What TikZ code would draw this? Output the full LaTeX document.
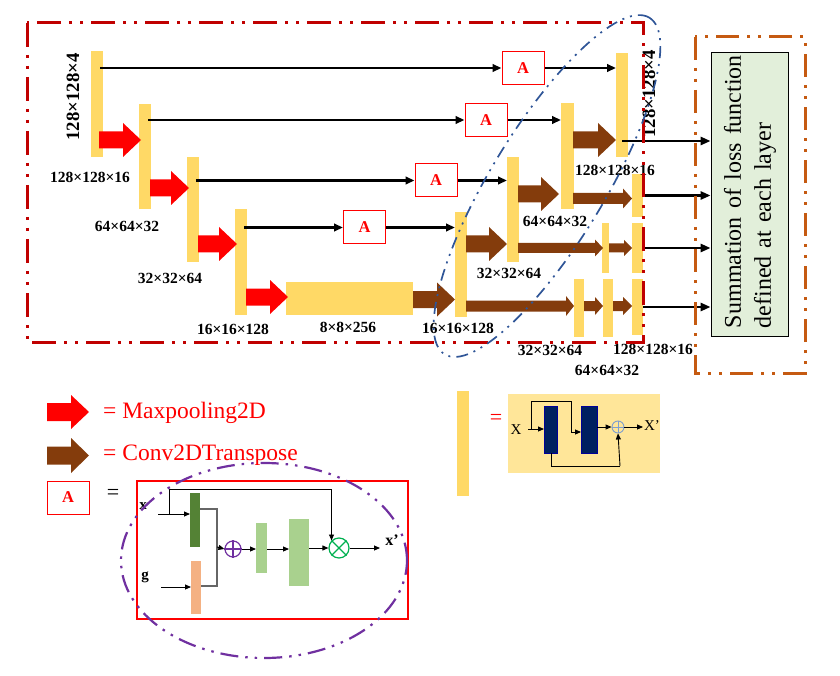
\documentclass[tikz,border=0pt]{standalone}
\usepackage{fontspec}
\setmainfont{Liberation Serif}
\usetikzlibrary{arrows.meta}
\definecolor{ybar}{HTML}{FFD966}
\definecolor{dred}{HTML}{C00000}
\definecolor{brn}{HTML}{843C0C}
\definecolor{org}{HTML}{C55A11}
\definecolor{blu}{HTML}{2F5597}
\definecolor{pur}{HTML}{7030A0}
\definecolor{lgreen}{HTML}{E2EFDA}
\definecolor{dgreen}{HTML}{548235}
\definecolor{mgreen}{HTML}{A9D18E}
\definecolor{peach}{HTML}{F4B183}
\definecolor{lyel}{HTML}{FFE699}
\definecolor{navy}{HTML}{002060}
\definecolor{xgreen}{HTML}{00B050}
\definecolor{pblue}{HTML}{7F9FCF}
\newcommand\mkbar[6]{\node[#1,minimum width={(#5-#3)*1pt},minimum height={(#6-#4)*1pt}] (#2) at ({(#3+#5)/2},{(#4+#6)/2}) {};}
\newcommand\blockarr[7]{\fill[#1] (#2,#5-#6) -- (#3,#5-#6) -- (#3,#5-#7) -- (#4,#5) -- (#3,#5+#7) -- (#3,#5+#6) -- (#2,#5+#6) -- cycle;}
\begin{document}
\begin{tikzpicture}[x=1pt,y=-1pt,
  bar/.style={fill=ybar,inner sep=0,outer sep=0},
  fbar/.style={inner sep=0,outer sep=0},
  abox/.style={draw=red,line width=1pt,fill=white,minimum width=42pt,minimum height=33pt,inner sep=0,text=red,font=\bfseries\fontsize{16.5}{16}\selectfont},
  dim/.style={font=\bfseries\fontsize{15.5}{18}\selectfont,inner sep=0},
  rdim/.style={font=\bfseries\fontsize{18.8}{20}\selectfont,inner sep=0,rotate=90},
  skiparr/.style={-{Triangle[length=9pt,width=7.5pt]},line width=2.3pt},
  outarr/.style={-{Triangle[length=10pt,width=8pt]},line width=2.5pt},
  thinarr/.style={-{Triangle[length=6pt,width=5pt]},line width=0.9pt},
  thinline/.style={line width=0.9pt},
  leg/.style={font=\fontsize{23.5}{24}\selectfont,text=red,anchor=base west,inner sep=0},
  lbl/.style={font=\bfseries\fontsize{15}{16}\selectfont,inner sep=0},
  dashdotdot/.style={dash pattern=on 24pt off 8pt on 3pt off 8pt on 3pt off 8pt}]
\useasboundingbox (0,0) rectangle (840,676);

% ---------- encoder / decoder bars ----------
\mkbar{bar}{e1}{91}{51}{103}{157}
\mkbar{bar}{e2}{139}{104}{151}{209}
\mkbar{bar}{e3}{187}{157}{199}{262}
\mkbar{bar}{e4}{235}{209}{247}{315}
\mkbar{bar}{bn}{286}{282}{413}{315}
\mkbar{bar}{d4}{455}{212}{467}{317}
\mkbar{bar}{d3}{507}{157}{519}{262}
\mkbar{bar}{d2}{561}{103}{574}{209}
\mkbar{bar}{d1}{616}{53}{628}{157}
\mkbar{bar}{r1}{632}{174}{643}{217}
\mkbar{bar}{r2}{632}{223}{643}{273}
\mkbar{bar}{r3}{632}{279}{643}{335}
\mkbar{bar}{s2}{602}{223}{609}{273}
\mkbar{bar}{s3a}{574}{279}{584}{337}
\mkbar{bar}{s3b}{603}{279}{613}{337}

% ---------- block arrows ----------
\blockarr{red}{99}{123}{141}{140}{8.5}{17}
\blockarr{red}{150}{171}{189}{188}{8.5}{17}
\blockarr{red}{198}{219}{237}{244}{8.5}{17}
\blockarr{red}{246}{270}{288}{297}{8.5}{17}
\blockarr{brn}{413}{437}{455}{299.5}{8.5}{17}
\blockarr{brn}{466}{489}{507}{244}{8.5}{17}
\blockarr{brn}{518}{541}{559}{194}{8.5}{17}
\blockarr{brn}{573}{598}{616}{140}{8.5}{17}
\blockarr{brn}{573}{623}{632}{198.5}{5.5}{10}
\blockarr{brn}{518}{595}{603}{248}{5}{8.5}
\blockarr{brn}{609}{624}{632}{248}{4.5}{8}
\blockarr{brn}{466}{566}{574}{306}{5.5}{10}
\blockarr{brn}{584}{595}{603}{306}{5}{9}
\blockarr{brn}{613}{623}{632}{306}{5}{9}

% ---------- attention boxes and skips ----------
\node[abox] (a1) at (523,68) {A};
\node[abox] (a2) at (486,120) {A};
\node[abox] (a3) at (436,180.5) {A};
\node[abox] (a4) at (364.5,227.5) {A};
\draw[skiparr] ([xshift=-3pt]e1.east |- a1.west) -- (a1.west);
\draw[skiparr] (a1.east) -- (d1.west |- a1.east);
\draw[skiparr] ([xshift=-3pt]e2.east |- a2.west) -- (a2.west);
\draw[skiparr] (a2.east) -- (d2.west |- a2.east);
\draw[skiparr] ([xshift=-3pt]e3.east |- a3.west) -- (a3.west);
\draw[skiparr] (a3.east) -- (d3.west |- a3.east);
\draw[skiparr] ([xshift=-3pt]e4.east |- a4.west) -- (a4.west);
\draw[skiparr] (a4.east) -- (d4.west |- a4.east);

% ---------- labels ----------
\node[rdim] at (73,97) {128×128×4};
\node[rdim] at (649,94) {128×128×4};
\node[dim] at (90,177) {128×128×16};
\node[dim] at (127,226) {64×64×32};
\node[dim] at (170,278) {32×32×64};
\node[dim] at (233,329) {16×16×128};
\node[dim] at (348,327) {8×8×256};
\node[dim] at (458,328) {16×16×128};
\node[dim] at (509,273) {32×32×64};
\node[dim] at (555,221) {64×64×32};
\node[dim] at (615,170) {128×128×16};
\node[dim] at (550,350) {32×32×64};
\node[dim] at (607,370) {64×64×32};
\node[dim] at (653,349) {128×128×16};

% ---------- summation box ----------
\node[draw=black,line width=0.8pt,fill=lgreen,minimum width=77pt,minimum height=284pt,inner sep=0] (sum) at (749.5,194) {};
\node[rotate=90,text width=273pt,align=left,inner sep=0,font=\fontsize{24}{30}\selectfont] at (750,191.5) {Summation\hfill of\hfill loss\hfill function\\defined at each layer};
\coordinate (o0) at (622,141);
\draw[outarr] (o0) -- (o0 -| sum.west);
\draw[outarr] (r1.east) -- (r1.east -| sum.west);
\draw[outarr] (r2.east) -- (r2.east -| sum.west);
\draw[outarr] (r3.east) -- (r3.east -| sum.west);

% ---------- frames ----------
\draw[dred,line width=3pt,dashdotdot] (27,23) rectangle (643,342);
\draw[org,line width=3pt,dash pattern=on 23pt off 8pt on 3pt off 8pt on 3pt off 8pt] (695,37) rectangle (805,373);
\draw[blu,line width=1.7pt,dash pattern=on 12pt off 6pt on 2pt off 6pt on 2pt off 6pt,rotate around={58.7:(547,186)}] (547,186) ellipse [x radius=197pt,y radius=57pt];

% ---------- legend ----------
\blockarr{red}{47}{71}{89}{412}{9}{17}
\blockarr{brn}{47}{71}{89}{455.5}{9}{17.5}
\node[leg] at (103,418) {= Maxpooling2D};
\node[leg] at (103,460) {= Conv2DTranspose};
\node[abox] (aleg) at (68,497.5) {A};
\node[font=\fontsize{22}{24}\selectfont,inner sep=0] (eqa) at (113,494) {=};

% attention block
\draw[red,line width=2pt] (137,481) rectangle (408,619);
\mkbar{fbar,fill=dgreen}{G}{190}{493}{200}{547}
\mkbar{fbar,fill=peach}{O}{191}{561}{201}{614}
\mkbar{fbar,fill=mgreen}{L1}{256}{523}{267}{573}
\mkbar{fbar,fill=mgreen}{L2}{289}{519}{309}{586}
\node[circle,draw=pur,line width=1.2pt,minimum size=16pt,inner sep=0] (P) at (233,549) {};
\draw[pur,line width=1.2pt] (P.north) -- (P.south) (P.west) -- (P.east);
\node[circle,draw=xgreen,line width=1.2pt,minimum size=20pt,inner sep=0] (M) at (339,548) {};
\draw[xgreen,line width=1.2pt] (M.north west) -- (M.south east) (M.north east) -- (M.south west);
\node[lbl] at (143,506) {x};
\node[lbl] at (145,577) {g};
\node[lbl,font=\bfseries\fontsize{16}{16}\selectfont] at (392,540) {x’};
\coordinate (xin) at (158,514);
\coordinate (xb) at (169,514);
\coordinate (xt) at (169,489);
\coordinate (gin) at (161,587);
\coordinate (j1) at (217,509);
\coordinate (j2) at (217,586);
\coordinate (j3) at (217,547);
\coordinate (xo) at (380,548);
\draw[thinarr] (xin) -- (xin -| G.west);
\draw[thinline] (xb) -- (xt) -- (xt -| M.north west);
\draw[thinarr] (xt -| M.north west) -- (M.north west);
\draw[thinarr] (gin) -- (gin -| O.west);
\draw[line width=1.4pt,black!60] (j1 -| G.east) -- (j1) -- (j2) -- (j2 -| O.east);
\draw[thinarr] (j3) -- (P.west);
\draw[thinarr] (P.east) -- (L1.west |- P.east);
\draw[thinarr] (L1.east |- P.east) -- (L2.west |- P.east);
\draw[thinarr] (L2.east |- M.west) -- (M.west);
\draw[thinarr] (M.east) -- (xo);
\draw[pur,line width=2.2pt,dash pattern=on 18pt off 7pt on 2.5pt off 7pt on 2.5pt off 7pt] (264,560.5) ellipse [x radius=143pt,y radius=97.5pt];

% residual block legend
\mkbar{bar}{yleg}{457}{391}{469}{496}
\node[font=\fontsize{22}{24}\selectfont,text=red,inner sep=0] (eqr) at (496,419) {=};
\node[fill=lyel,inner sep=0,minimum width=152pt,minimum height=79pt] (res) at (584,433.5) {};
\mkbar{fbar,fill=navy,draw=blue!60!black,line width=0.5pt}{N1}{544}{406}{557}{453}
\mkbar{fbar,fill=navy,draw=blue!60!black,line width=0.5pt}{N2}{581}{406}{597}{453}
\node[circle,draw=pblue,line width=0.9pt,minimum size=12pt,inner sep=0] (Q) at (618,427) {};
\draw[pblue,line width=0.9pt] (Q.north) -- (Q.south) (Q.west) -- (Q.east);
\node[font=\fontsize{15}{16}\selectfont,inner sep=0] (X) at (516,430) {X};
\node[font=\fontsize{15}{16}\selectfont,inner sep=0] (Xp) at (652,426) {X’};
\coordinate (rx) at (528,429);
\coordinate (rb) at (531,429);
\coordinate (rt) at (531,401);
\coordinate (rr) at (571,401);
\coordinate (rd) at (571,432);
\coordinate (rq) at (551,466);
\coordinate (rq2) at (620,466);
\coordinate (ro) at (643,427);
\draw[thinarr] (rx) -- (rx -| N1.west);
\draw[thinline] (rb) -- (rt) -- (rr) -- (rd);
\draw[thinarr] (rd) -- (rd -| N2.west);
\draw[thinarr] (N2.east |- Q.west) -- (Q.west);
\draw[thinline] (rq |- N1.south) -- (rq) -- (rq2);
\draw[thinarr] (rq2) -- (Q.south);
\draw[thinarr] (Q.east) -- (ro);
\end{tikzpicture}
\end{document}
